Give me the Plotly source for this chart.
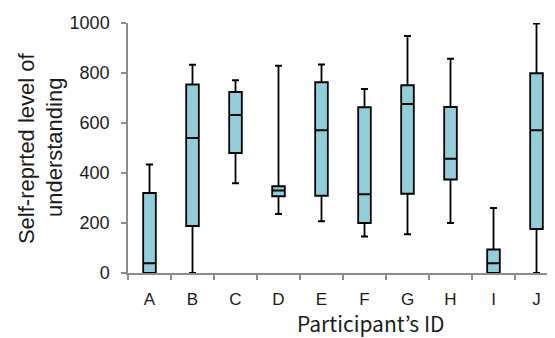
import plotly.graph_objects as go

participants = ["A", "B", "C", "D", "E", "F", "G", "H", "I", "J"]
lower_whisker = [0, 0, 359, 236, 207, 146, 155, 200, 0, 0]
q1_values = [0, 188, 480, 307, 309, 200, 317, 374, 0, 176]
median_values = [39, 540, 632, 330, 571, 315, 676, 457, 39, 571]
q3_values = [320, 754, 724, 347, 763, 663, 751, 664, 94, 799]
upper_whisker = [434, 833, 771, 829, 834, 736, 948, 857, 260, 998]
y_ticks = [0, 200, 400, 600, 800, 1000]

fig = go.Figure()
fig.add_trace(go.Box(
    x=participants,
    q1=q1_values,
    median=median_values,
    q3=q3_values,
    lowerfence=lower_whisker,
    upperfence=upper_whisker,
    boxpoints=False,
    fillcolor="#92CDDC",
    line=dict(color="#000000", width=1.8),
    whiskerwidth=0.55,
    showlegend=False,
))

font_main = "Liberation Sans, Arial, sans-serif"
# The page body has an 8px default margin, so margins are offset by 8px.
fig.update_layout(
    width=555, height=338,
    margin=dict(l=120, r=5, t=8, b=73),
    paper_bgcolor="white", plot_bgcolor="white",
    boxgap=0.58,
    font=dict(family=font_main, size=17, color="#1a1a1a"),
    xaxis=dict(
        type="category",
        range=[-0.5, 9.5],
        showline=True, linecolor="#8c8c8c", linewidth=1.5,
        ticks="outside", ticklen=5, tickcolor="#8c8c8c", tickwidth=1.5,
        tickson="boundaries",
        showgrid=False, zeroline=False,
        ticklabelstandoff=10,
        tickfont=dict(family=font_main, size=17, color="#1a1a1a"),
    ),
    yaxis=dict(
        range=[0, 1000],
        tickvals=y_ticks,
        showline=True, linecolor="#8c8c8c", linewidth=1.5,
        ticks="outside", ticklen=5, tickcolor="#8c8c8c", tickwidth=1.5,
        showgrid=False, zeroline=False,
        ticklabelstandoff=8,
        ticklabeloverflow="allow",
        tickfont=dict(family=font_main, size=18, color="#1a1a1a"),
    ),
)

fig.add_annotation(
    text="Self-reprted level of", textangle=-90,
    xref="paper", yref="paper", x=-0.237, y=0.5,
    xanchor="center", yanchor="middle", showarrow=False,
    font=dict(family=font_main, size=22, color="#1a1a1a"),
)
fig.add_annotation(
    text="understanding", textangle=-90,
    xref="paper", yref="paper", x=-0.172, y=0.5,
    xanchor="center", yanchor="middle", showarrow=False,
    font=dict(family=font_main, size=22, color="#1a1a1a"),
)
fig.add_annotation(
    text="Participant’s ID",
    xref="paper", yref="paper", x=0.565, y=-0.198,
    xanchor="center", yanchor="middle", showarrow=False,
    font=dict(family="Noto Sans CJK JP, sans-serif", size=21, color="#1a1a1a"),
)

fig.write_html("out.html")
